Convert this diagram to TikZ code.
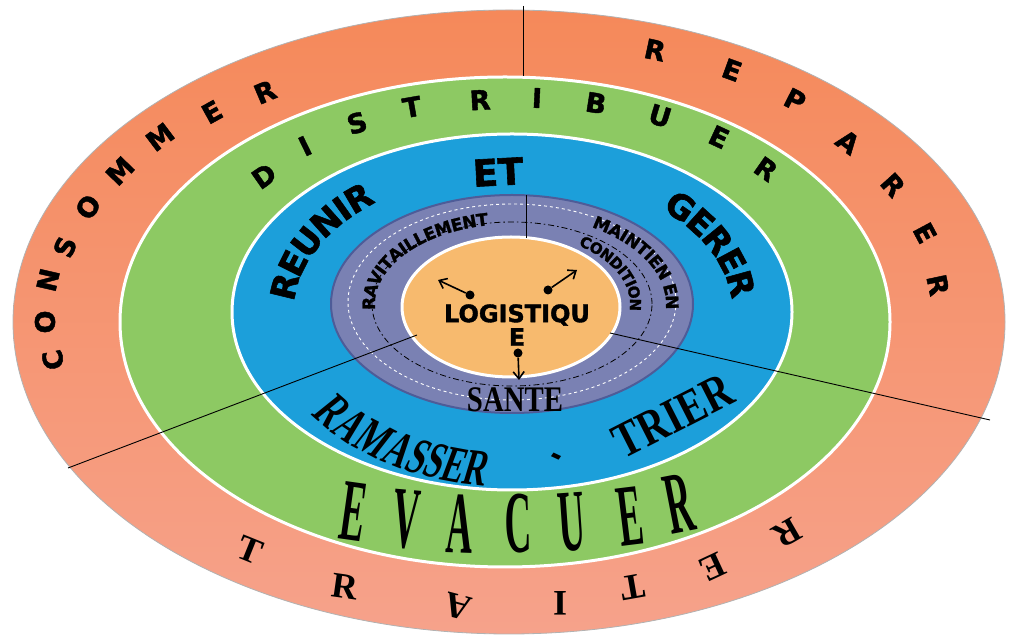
\documentclass[tikz,border=0pt]{standalone}
\usepackage{fontspec}
\usepackage{tikz}
\usetikzlibrary{arrows.meta,decorations.text}

\newfontfamily\heavysans[BoldFeatures={FakeBold=1.6}]{DejaVu Sans}
\newfontfamily\plainserif{Liberation Serif}
\newfontfamily\tallserif[FakeStretch=0.42]{Liberation Serif}
\newfontfamily\slantserif[FakeStretch=0.62,FakeSlant=0.18]{Liberation Serif}
\newfontfamily\narrowserif[FakeStretch=0.8]{Liberation Serif}

\definecolor{salmontop}{HTML}{F5895A}
\definecolor{salmonbot}{HTML}{F6A28B}
\definecolor{ringgreen}{HTML}{8DC963}
\definecolor{ringblue}{HTML}{1C9FDA}
\definecolor{ringslate}{HTML}{7A81B3}
\definecolor{slateedge}{HTML}{4E5C98}
\definecolor{coreorange}{HTML}{F7BA6E}

\newcommand{\ringfont}{\fontsize{27}{27}\selectfont\heavysans\bfseries}
\newcommand{\bluefont}{\fontsize{34}{34}\selectfont\heavysans\bfseries}
\newcommand{\etfont}{\fontsize{37}{37}\selectfont\heavysans\bfseries}
\newcommand{\slatefont}{\fontsize{17}{17}\selectfont\heavysans\bfseries}
\newcommand{\condfont}{\fontsize{15}{15}\selectfont\heavysans\bfseries}
\newcommand{\corefont}{\fontsize{24}{24}\selectfont\heavysans\bfseries}
\newcommand{\traitfont}{\fontsize{36}{36}\selectfont\plainserif\bfseries}
\newcommand{\evacfont}{\fontsize{88}{88}\selectfont\tallserif\bfseries}
\newcommand{\ramfont}{\fontsize{52}{52}\selectfont\slantserif\bfseries}
\newcommand{\trierfont}{\fontsize{50}{50}\selectfont\narrowserif\bfseries}
\newcommand{\santefont}{\fontsize{36}{36}\selectfont\narrowserif\bfseries}

\begin{document}
\begin{tikzpicture}[x=1pt, y=1pt,
  ring/.style={draw=white, line width=3pt},
  divider/.style={draw=black, line width=0.9pt},
  letter/.style={inner sep=0pt, font=\ringfont},
  pointer/.style={draw, line width=1.6pt, -{Straight Barb[length=7pt,width=11pt]}},
  dot/.style={circle, fill=black, inner sep=0pt, minimum size=9pt}]

  \useasboundingbox (0,0) rectangle (1009,642);

  % Rings
  \path[top color=salmontop, bottom color=salmonbot, draw=black!30, line width=0.8pt]
    (509,320) ellipse [x radius=496, y radius=312];
  \path[ring, fill=ringgreen] (505,320) ellipse [x radius=385, y radius=245];
  \path[ring, fill=ringblue] (512,330) ellipse [x radius=280, y radius=178];
  \path[fill=ringslate, draw=slateedge, line width=2pt] (512,338) ellipse [x radius=181, y radius=109];
  \draw[white, dashed, line width=0.9pt] (512,340) ellipse [x radius=164, y radius=98];
  \draw[black, line width=0.8pt, dash pattern=on 6pt off 3pt on 1.5pt off 3pt]
    (512,338) ellipse [x radius=140, y radius=82];
  \path[ring, fill=coreorange] (511,335) ellipse [x radius=109, y radius=70];

  % Dividers
  \draw[divider] (523,636) -- (523,566);
  \draw[divider] (526,447) -- (526,404);
  \draw[divider] (68,174) -- (417,307);
  \draw[divider] (610,309) -- (990,222);

  % Outer ring
  \foreach \ch/\x/\y/\r [count=\i] in {C/53/282/102, O/45/320/90, N/48/362/77, S/65/395/67,
      O/88/435/55, M/120/471/46, M/160/505/37, E/212/530/29, R/265/550/23}
    \node[letter, rotate=\r] (cons\i) at (\x,\y) {\ch};
  \foreach \ch/\x/\y/\r [count=\i] in {R/655/592/-12, E/732/572/-20, P/795/542/-27, A/848/500/-37,
      R/893/457/-48, E/925/409/-62, R/938/357/-78}
    \node[letter, rotate=\r] (rep\i) at (\x,\y) {\ch};
  \foreach \ch/\x/\y/\r [count=\i] in {T/250/92/-22, R/345/55/-8, A/458/35/165, I/560/39/180,
      T/633/55/190, E/713/75/205, R/787/109/210}
    \node[letter, font=\traitfont, rotate=\r] (trait\i) at (\x,\y) {\ch};

  % Green ring
  \foreach \ch/\x/\y/\r [count=\i] in {D/264/466/35, I/305/496/26, S/357/519/17, T/412/535/10,
      R/480/542/3, I/537/544/-3, B/596/539/-9, U/660/526/-17, E/719/505/-25, R/766/473/-35}
    \node[letter, rotate=\r] (dist\i) at (\x,\y) {\ch};
  \foreach \ch/\x/\y/\r [count=\i] in {E/354/130/-8, V/406/122/-5, A/460/118/-2, C/518/118/1,
      U/572/120/4, E/630/126/7, R/679/138/11}
    \node[letter, font=\evacfont, rotate=\r] (evac\i) at (\x,\y) {\ch};

  % Blue ring
  \path[decorate, decoration={text along path, text={|\bluefont|REUNIR}, text align=center, raise=-12pt}]
    (512,332) ++(183:230 and 150) arc[start angle=183, end angle=123, x radius=230, y radius=150];
  \path[decorate, decoration={text along path, text={|\bluefont|GERER}, text align=center, raise=-12pt}]
    (512,332) ++(55:232 and 150) arc[start angle=55, end angle=-5, x radius=232, y radius=150];
  \node[font=\etfont, rotate=3] (et) at (498,470) {ET};
  \path[decorate, decoration={text along path, text={|\ramfont|RAMASSER}, text align=center, raise=-17pt}]
    (512,332) ++(208:232 and 160) arc[start angle=208, end angle=269, x radius=232, y radius=160];
  \node[font=\ramfont, rotate=-25] (dash) at (552,182) {-};
  \node[font=\trierfont, rotate=27] (trier) at (673,226) {TRIER};

  % Slate ring
  \path[decorate, decoration={text along path, text={|\slatefont|RAVITAILLEMENT}, text align=center, raise=-6pt}]
    (512,338) ++(190:143 and 86) arc[start angle=190, end angle=96, x radius=143, y radius=86];
  \path[decorate, decoration={text along path, text={|\slatefont|MAINTIEN EN}, text align=center, raise=-6pt}]
    (512,338) ++(63:160 and 96) arc[start angle=63, end angle=-9, x radius=160, y radius=96];
  \path[decorate, decoration={text along path, text={|\condfont|CONDITION}, text align=center, raise=-5pt}]
    (512,338) ++(58:123 and 76) arc[start angle=58, end angle=-8, x radius=123, y radius=76];
  \node[font=\santefont] (sante) at (515,242) {SANTE};

  % Centre
  \node[font=\corefont] (logi) at (517,327) {LOGISTIQU};
  \node[font=\corefont] (logie) at (517,305) {E};
  \node[dot] (d1) at (470,347) {};
  \node[dot] (d2) at (548,352) {};
  \node[dot] (d3) at (518,289) {};
  \coordinate (h1) at (438,362);
  \coordinate (h2) at (577,372);
  \coordinate (h3) at (519,262);
  \draw[pointer] (d1) -- (h1);
  \draw[pointer] (d2) -- (h2);
  \draw[pointer] (d3) -- (h3);
\end{tikzpicture}
\end{document}
